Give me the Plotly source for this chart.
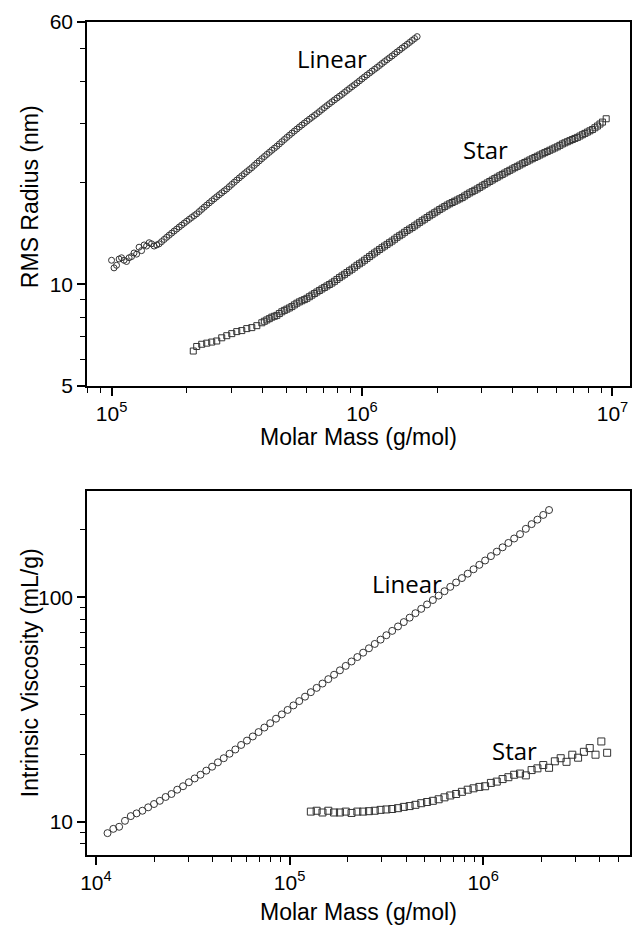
import plotly.graph_objects as go

# ---------------- data: top panel (RMS radius vs molar mass) ----------------
top_linear_mass = [
    1.000e5, 1.023e5, 1.047e5, 1.072e5, 1.096e5, 1.122e5, 1.148e5, 1.175e5, 1.202e5, 1.230e5,
    1.259e5, 1.288e5, 1.318e5, 1.349e5, 1.380e5, 1.413e5, 1.445e5, 1.479e5, 1.514e5, 1.549e5,
    1.585e5, 1.622e5, 1.660e5, 1.698e5, 1.738e5, 1.778e5, 1.820e5, 1.862e5, 1.905e5, 1.950e5,
    1.995e5, 2.042e5, 2.089e5, 2.138e5, 2.188e5, 2.239e5, 2.291e5, 2.344e5, 2.399e5, 2.455e5,
    2.512e5, 2.570e5, 2.630e5, 2.692e5, 2.754e5, 2.818e5, 2.884e5, 2.951e5, 3.020e5, 3.090e5,
    3.162e5, 3.236e5, 3.311e5, 3.388e5, 3.467e5, 3.548e5, 3.631e5, 3.715e5, 3.802e5, 3.890e5,
    3.981e5, 4.074e5, 4.169e5, 4.266e5, 4.365e5, 4.467e5, 4.571e5, 4.677e5, 4.786e5, 4.898e5,
    5.012e5, 5.129e5, 5.248e5, 5.370e5, 5.495e5, 5.623e5, 5.754e5, 5.888e5, 6.026e5, 6.166e5,
    6.310e5, 6.457e5, 6.607e5, 6.761e5, 6.918e5, 7.079e5, 7.244e5, 7.413e5, 7.586e5, 7.762e5,
    7.943e5, 8.128e5, 8.318e5, 8.511e5, 8.710e5, 8.913e5, 9.120e5, 9.333e5, 9.550e5, 9.772e5,
    1.000e6, 1.023e6, 1.047e6, 1.072e6, 1.096e6, 1.122e6, 1.148e6, 1.175e6, 1.202e6, 1.230e6,
    1.259e6, 1.288e6, 1.318e6, 1.349e6, 1.380e6, 1.413e6, 1.445e6, 1.479e6, 1.514e6, 1.549e6,
    1.585e6, 1.622e6, 1.660e6,
]
top_linear_radius = [
    11.8, 11.2, 11.4, 11.9, 12.0, 11.8, 11.7, 12.0, 12.1, 12.4,
    12.3, 12.9, 12.6, 13.1, 13.0, 13.3, 13.2, 13.0, 13.1, 13.2,
    13.4, 13.6, 13.8, 14.0, 14.2, 14.4, 14.6, 14.8, 15.0, 15.2,
    15.4, 15.6, 15.8, 16.0, 16.2, 16.45, 16.7, 16.95, 17.2, 17.45,
    17.7, 17.95, 18.2, 18.45, 18.7, 18.95, 19.2, 19.5, 19.8, 20.1,
    20.4, 20.7, 21.0, 21.3, 21.6, 21.9, 22.2, 22.55, 22.9, 23.25,
    23.6, 23.95, 24.3, 24.65, 25.0, 25.35, 25.7, 26.1, 26.5, 26.9,
    27.3, 27.7, 28.1, 28.5, 28.9, 29.3, 29.7, 30.1, 30.5, 30.9,
    31.3, 31.7, 32.1, 32.55, 33.0, 33.45, 33.9, 34.35, 34.8, 35.25,
    35.7, 36.15, 36.6, 37.1, 37.6, 38.1, 38.6, 39.1, 39.6, 40.15,
    40.7, 41.25, 41.8, 42.35, 42.9, 43.45, 44.0, 44.6, 45.2, 45.8,
    46.4, 47.0, 47.6, 48.25, 48.9, 49.55, 50.2, 50.85, 51.5, 52.2,
    52.9, 53.6, 54.3,
]

top_star_mass = [
    2.120e5, 2.188e5, 2.291e5, 2.399e5, 2.512e5, 2.630e5, 2.754e5, 2.884e5, 3.020e5, 3.162e5,
    3.311e5, 3.467e5, 3.631e5, 3.802e5,
    3.981e5, 4.074e5, 4.169e5, 4.266e5, 4.365e5, 4.467e5, 4.571e5, 4.677e5, 4.786e5, 4.898e5,
    5.012e5, 5.129e5, 5.248e5, 5.370e5, 5.495e5, 5.623e5, 5.754e5, 5.888e5, 6.026e5, 6.166e5,
    6.310e5, 6.457e5, 6.607e5, 6.761e5, 6.918e5, 7.079e5, 7.244e5, 7.413e5, 7.586e5, 7.762e5,
    7.943e5, 8.128e5, 8.318e5, 8.511e5, 8.710e5, 8.913e5, 9.120e5, 9.333e5, 9.550e5, 9.772e5,
    1.000e6, 1.023e6, 1.047e6, 1.072e6, 1.096e6, 1.122e6, 1.148e6, 1.175e6, 1.202e6, 1.230e6,
    1.259e6, 1.288e6, 1.318e6, 1.349e6, 1.380e6, 1.413e6, 1.445e6, 1.479e6, 1.514e6, 1.549e6,
    1.585e6, 1.622e6, 1.660e6, 1.698e6, 1.738e6, 1.778e6, 1.820e6, 1.862e6, 1.905e6, 1.950e6,
    1.995e6, 2.042e6, 2.089e6, 2.138e6, 2.188e6, 2.239e6, 2.291e6, 2.344e6, 2.399e6, 2.455e6,
    2.512e6, 2.570e6, 2.630e6, 2.692e6, 2.754e6, 2.818e6, 2.884e6, 2.951e6, 3.020e6, 3.090e6,
    3.162e6, 3.236e6, 3.311e6, 3.388e6, 3.467e6, 3.548e6, 3.631e6, 3.715e6, 3.802e6, 3.890e6,
    3.981e6, 4.074e6, 4.169e6, 4.266e6, 4.365e6, 4.467e6, 4.571e6, 4.677e6, 4.786e6, 4.898e6,
    5.012e6, 5.129e6, 5.248e6, 5.370e6, 5.495e6, 5.623e6, 5.754e6, 5.888e6, 6.026e6, 6.166e6,
    6.310e6, 6.457e6, 6.607e6, 6.761e6, 6.918e6, 7.079e6, 7.244e6, 7.413e6, 7.586e6, 7.762e6,
    7.943e6, 8.128e6, 8.318e6, 8.511e6, 8.710e6, 8.913e6, 9.120e6, 9.440e6,
]
top_star_radius = [
    6.35, 6.55, 6.65, 6.70, 6.75, 6.80, 6.95, 7.05, 7.15, 7.25,
    7.30, 7.40, 7.45, 7.55,
    7.70, 7.78, 7.85, 7.92, 8.00, 8.05, 8.10, 8.20, 8.30, 8.38,
    8.45, 8.52, 8.60, 8.70, 8.80, 8.88, 8.95, 9.02, 9.10, 9.20,
    9.30, 9.40, 9.50, 9.60, 9.70, 9.80, 9.90, 10.00, 10.10, 10.22,
    10.35, 10.48, 10.60, 10.72, 10.85, 10.98, 11.10, 11.25, 11.40, 11.52,
    11.65, 11.80, 11.95, 12.10, 12.25, 12.40, 12.55, 12.70, 12.85, 13.00,
    13.15, 13.30, 13.45, 13.62, 13.80, 13.95, 14.10, 14.28, 14.45, 14.60,
    14.75, 14.92, 15.10, 15.28, 15.45, 15.62, 15.80, 15.98, 16.15, 16.32,
    16.50, 16.68, 16.85, 17.02, 17.20, 17.35, 17.50, 17.65, 17.80, 17.95,
    18.10, 18.30, 18.50, 18.68, 18.85, 19.02, 19.20, 19.40, 19.60, 19.80,
    20.00, 20.20, 20.40, 20.60, 20.80, 21.00, 21.20, 21.40, 21.60, 21.80,
    22.00, 22.20, 22.40, 22.60, 22.80, 23.00, 23.20, 23.40, 23.60, 23.80,
    24.00, 24.20, 24.40, 24.60, 24.80, 25.00, 25.20, 25.40, 25.60, 25.85,
    26.10, 26.30, 26.50, 26.70, 26.90, 27.10, 27.30, 27.55, 27.80, 28.05,
    28.30, 28.55, 28.80, 29.15, 29.50, 29.90, 30.30, 31.00,
]

# ---------------- data: bottom panel (intrinsic viscosity vs molar mass) ----------------
bot_linear_mass = [
    1.148e4, 1.230e4, 1.318e4, 1.413e4, 1.514e4, 1.622e4, 1.738e4, 1.862e4, 1.995e4, 2.138e4,
    2.291e4, 2.455e4, 2.630e4, 2.818e4, 3.020e4, 3.236e4, 3.467e4, 3.715e4, 3.981e4, 4.266e4,
    4.571e4, 4.898e4, 5.248e4, 5.623e4, 6.026e4, 6.457e4, 6.918e4, 7.413e4, 7.943e4, 8.511e4,
    9.120e4, 9.772e4, 1.047e5, 1.122e5, 1.202e5, 1.288e5, 1.380e5, 1.479e5, 1.585e5, 1.698e5,
    1.820e5, 1.950e5, 2.089e5, 2.239e5, 2.399e5, 2.570e5, 2.754e5, 2.951e5, 3.162e5, 3.388e5,
    3.631e5, 3.890e5, 4.169e5, 4.467e5, 4.786e5, 5.129e5, 5.495e5, 5.888e5, 6.310e5, 6.761e5,
    7.244e5, 7.762e5, 8.318e5, 8.913e5, 9.550e5, 1.023e6, 1.096e6, 1.175e6, 1.259e6, 1.349e6,
    1.445e6, 1.549e6, 1.660e6, 1.778e6, 1.905e6, 2.042e6, 2.188e6,
]
bot_linear_visc = [
    8.9, 9.3, 9.5, 10.1, 10.6, 10.9, 11.2, 11.6, 12.0, 12.4,
    12.9, 13.3, 13.9, 14.4, 15.0, 15.6, 16.2, 16.9, 17.6, 18.4,
    19.2, 20.1, 21.0, 22.0, 23.0, 24.0, 25.1, 26.3, 27.5, 28.8,
    30.1, 31.5, 33.0, 34.5, 36.1, 37.8, 39.5, 41.3, 43.2, 45.2,
    47.3, 49.5, 51.8, 54.2, 56.7, 59.3, 62.0, 64.8, 67.8, 70.9,
    74.2, 77.6, 81.2, 85.0, 88.9, 93.0, 97.3, 101.8, 106.5, 111.4,
    116.5, 121.9, 127.5, 133.4, 139.6, 146.0, 152.7, 159.8, 167.1, 174.8,
    182.9, 191.3, 202.0, 212.0, 222.0, 233.0, 245.0,
]

bot_star_mass = [
    1.288e5, 1.380e5, 1.479e5, 1.585e5, 1.698e5, 1.820e5, 1.950e5, 2.089e5, 2.239e5, 2.399e5,
    2.570e5, 2.754e5, 2.951e5, 3.162e5, 3.388e5, 3.631e5, 3.890e5, 4.169e5, 4.467e5, 4.786e5,
    5.129e5, 5.495e5, 5.888e5, 6.310e5, 6.761e5, 7.244e5, 7.762e5, 8.318e5, 8.913e5, 9.550e5,
    1.023e6, 1.096e6, 1.175e6, 1.259e6, 1.349e6, 1.445e6, 1.549e6, 1.660e6, 1.778e6, 1.905e6,
    2.042e6, 2.188e6, 2.344e6, 2.512e6, 2.692e6, 2.884e6, 3.090e6, 3.311e6, 3.548e6, 3.802e6,
    4.074e6, 4.365e6,
]
bot_star_visc = [
    11.1, 11.2, 11.0, 11.2, 11.0, 11.0, 11.1, 10.95, 11.1, 11.1,
    11.15, 11.2, 11.3, 11.35, 11.4, 11.5, 11.65, 11.75, 11.9, 12.1,
    12.25, 12.4, 12.6, 12.85, 13.1, 13.3, 13.6, 13.9, 14.1, 14.3,
    14.4, 14.9, 15.1, 15.5, 15.8, 16.2, 16.4, 16.1, 17.0, 17.3,
    17.9, 17.4, 18.6, 19.2, 18.5, 19.9, 19.3, 20.5, 21.3, 19.9,
    22.8, 20.3,
]

# tick labels
top_x_ticks = [1e5, 1e6, 1e7]
top_x_ticktext = ["10<sup>5</sup>", "10<sup>6</sup>", "10<sup>7</sup>"]
top_y_ticks = [5, 10, 60]
top_y_ticktext = ["5", "10", "60"]
bot_x_ticks = [1e4, 1e5, 1e6]
bot_x_ticktext = ["10<sup>4</sup>", "10<sup>5</sup>", "10<sup>6</sup>"]
bot_y_ticks = [10, 100]
bot_y_ticktext = ["10", "100"]

top_x_minor = [8e4, 9e4] + [m * 1e5 for m in range(2, 10)] + [m * 1e6 for m in range(2, 10)]
top_y_minor = [6, 7, 8, 9, 20, 30, 40, 50]
bot_x_minor = [m * 1e4 for m in range(2, 10)] + [m * 1e5 for m in range(2, 10)] + [m * 1e6 for m in range(2, 6)]
bot_y_minor = [8, 9, 20, 30, 40, 50, 60, 70, 80, 90, 200]

AX_FONT = "Liberation Sans, Arial, sans-serif"
LBL_FONT = "Open Sans, sans-serif"
MCOL = "#333333"

fig = go.Figure()

fig.add_trace(go.Scatter(x=top_linear_mass, y=top_linear_radius, mode="markers",
                         marker=dict(symbol="circle-open", size=6, color=MCOL, line=dict(width=1)),
                         xaxis="x", yaxis="y", showlegend=False))
fig.add_trace(go.Scatter(x=top_star_mass, y=top_star_radius, mode="markers",
                         marker=dict(symbol="square-open", size=6, color=MCOL, line=dict(width=1)),
                         xaxis="x", yaxis="y", showlegend=False))
fig.add_trace(go.Scatter(x=bot_linear_mass, y=bot_linear_visc, mode="markers",
                         marker=dict(symbol="circle-open", size=7, color=MCOL, line=dict(width=1)),
                         xaxis="x2", yaxis="y2", showlegend=False))
fig.add_trace(go.Scatter(x=bot_star_mass, y=bot_star_visc, mode="markers",
                         marker=dict(symbol="square-open", size=7, color=MCOL, line=dict(width=1)),
                         xaxis="x2", yaxis="y2", showlegend=False))

def axis_style(tickvals, ticktext, minor_vals, rng, domain=None, anchor=None):
    d = dict(
        type="log", range=rng, tickmode="array", tickvals=tickvals, ticktext=ticktext,
        ticks="outside", ticklen=8, tickwidth=1.5, tickcolor="black",
        showline=True, linecolor="black", linewidth=1.5, mirror=True,
        showgrid=False, zeroline=False,
        tickfont=dict(family=AX_FONT, size=21, color="black"),
        minor=dict(tickmode="array", tickvals=minor_vals, ticks="outside", ticklen=5,
                   tickwidth=1.2, tickcolor="black", showgrid=False),
    )
    if domain is not None:
        d["domain"] = domain
    if anchor is not None:
        d["anchor"] = anchor
    return d

top_dom = [0.563, 1.0]
bot_dom = [0.0, 0.437]

fig.update_layout(
    width=637, height=930,
    margin=dict(l=87, r=5, t=22, b=75),
    paper_bgcolor="white", plot_bgcolor="white",
    xaxis=axis_style(top_x_ticks, top_x_ticktext, top_x_minor, [4.902, 7.07], anchor="y"),
    yaxis=axis_style(top_y_ticks, top_y_ticktext, top_y_minor, [0.699, 1.7782], domain=top_dom, anchor="x"),
    xaxis2=axis_style(bot_x_ticks, bot_x_ticktext, bot_x_minor, [3.954, 6.758], anchor="y2"),
    yaxis2=axis_style(bot_y_ticks, bot_y_ticktext, bot_y_minor, [0.852, 2.474], domain=bot_dom, anchor="x2"),
)

title_font = dict(family=AX_FONT, size=23, color="black")
label_font = dict(family=LBL_FONT, size=24, color="black")

annotations = [
    dict(text="Molar Mass (g/mol)", x=0.5, y=0.502, xref="paper", yref="paper",
         showarrow=False, font=title_font, xanchor="center", yanchor="middle"),
    dict(text="Molar Mass (g/mol)", x=0.5, y=-0.068, xref="paper", yref="paper",
         showarrow=False, font=title_font, xanchor="center", yanchor="middle"),
    dict(text="RMS Radius (nm)", x=-0.1046, y=0.79, xref="paper", yref="paper",
         showarrow=False, font=title_font, textangle=-90, xanchor="center", yanchor="middle"),
    dict(text="Intrinsic Viscosity (mL/g)", x=-0.1046, y=0.2185, xref="paper", yref="paper",
         showarrow=False, font=title_font, textangle=-90, xanchor="center", yanchor="middle"),
    dict(text="Linear", x=0.4514, y=0.9556, xref="paper", yref="paper",
         showarrow=False, font=label_font, xanchor="center", yanchor="middle"),
    dict(text="Star", x=0.734, y=0.8475, xref="paper", yref="paper",
         showarrow=False, font=label_font, xanchor="center", yanchor="middle"),
    dict(text="Linear", x=0.589, y=0.3265, xref="paper", yref="paper",
         showarrow=False, font=label_font, xanchor="center", yanchor="middle"),
    dict(text="Star", x=0.788, y=0.126, xref="paper", yref="paper",
         showarrow=False, font=label_font, xanchor="center", yanchor="middle"),
]
fig.update_layout(annotations=annotations)

fig.write_html("out.html")
